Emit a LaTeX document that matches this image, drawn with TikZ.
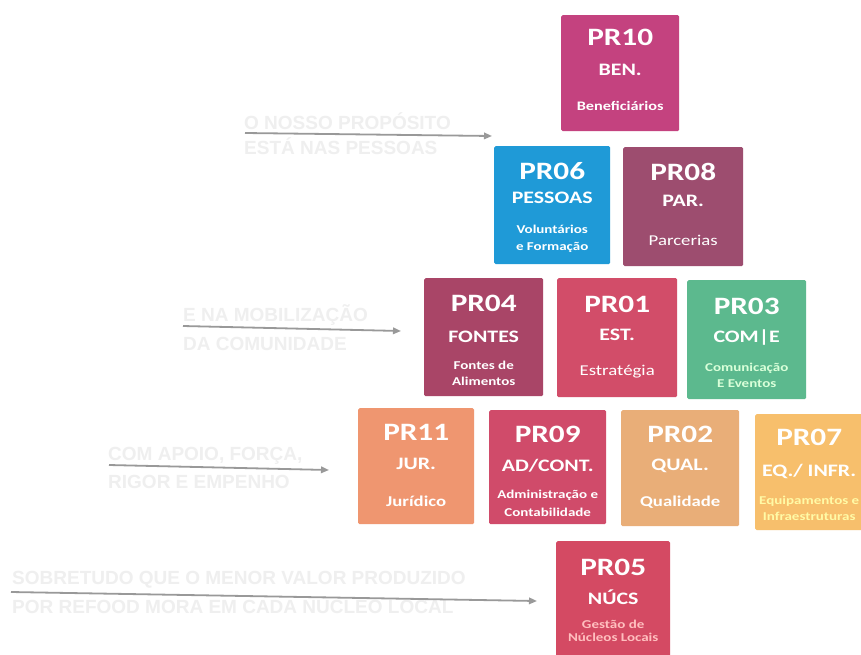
\documentclass[tikz,border=0pt]{standalone}
\usepackage{fontspec}
\setmainfont{Carlito}[FakeStretch=1.25]
\newfontfamily\labelfont{Liberation Sans}
\usetikzlibrary{calc,arrows.meta}
\definecolor{cPRten}{HTML}{C4427F}
\definecolor{cPRsix}{HTML}{1F9AD7}
\definecolor{cPReight}{HTML}{9D4D6F}
\definecolor{cPRfour}{HTML}{A94567}
\definecolor{cPRone}{HTML}{D24D69}
\definecolor{cPRthree}{HTML}{5CB98E}
\definecolor{cPReleven}{HTML}{EF9670}
\definecolor{cPRnine}{HTML}{D04B6A}
\definecolor{cPRtwo}{HTML}{E9AE78}
\definecolor{cPRseven}{HTML}{F7BF6C}
\definecolor{cPRfive}{HTML}{D44A63}
\definecolor{cArrow}{HTML}{999999}
\definecolor{cLabel}{HTML}{EFEFEF}
\begin{document}
\begin{tikzpicture}[x=1pt,y=-1pt,
  prbox/.style={rectangle, rounded corners=1.5pt, anchor=north west, inner sep=0pt},
  tcode/.style={text=white, inner sep=0pt, font=\bfseries\fontsize{25}{25}\selectfont},
  tabbr/.style={text=white, inner sep=0pt, font=\bfseries\fontsize{17.5}{17.5}\selectfont},
  tsub/.style={text=white, inner sep=0pt, font=\fontsize{15}{15}\selectfont},
  tsubb/.style={text=white, inner sep=0pt, font=\bfseries\fontsize{15}{15}\selectfont},
  tsmall/.style={text=white, inner sep=0pt, font=\bfseries\fontsize{12}{12}\selectfont},
  lbl/.style={text=cLabel, inner sep=0pt, anchor=west, font=\labelfont\bfseries\fontsize{19}{19}\selectfont},
  arr/.style={draw=cArrow, line width=1.8pt, -{Triangle[length=8pt,width=6.5pt]}}
]
\clip (0,0) rectangle (861,654);
\fill[white] (0,0) rectangle (861,654);

% ---- faded labels
\node[lbl] (l1a) at (244,121) {O NOSSO PROPÓSITO};
\node[lbl] (l1b) at (244,146) {ESTÁ NAS PESSOAS};
\node[lbl] (l2a) at (183,315) {E NA MOBILIZAÇÃO};
\node[lbl] (l2b) at (183,344) {DA COMUNIDADE};
\node[lbl] (l3a) at (108,456) {COM APOIO, FORÇA,};
\node[lbl] (l3b) at (108,482) {RIGOR E EMPENHO};
\node[lbl] (l4a) at (12,580) {SOBRETUDO QUE O MENOR VALOR PRODUZIDO};
\node[lbl] (l4b) at (12,605) {POR REFOOD MORA EM CADA NÚCLEO LOCAL};

% ---- arrows
\coordinate (a1s) at (245,133); \coordinate (a1e) at (492,136);
\coordinate (a2s) at (183,326); \coordinate (a2e) at (401,331);
\coordinate (a3s) at (109,465); \coordinate (a3e) at (329,470);
\coordinate (a4s) at (11,592);  \coordinate (a4e) at (537,601);
\draw[arr] (a1s) -- (a1e);
\draw[arr] (a2s) -- (a2e);
\draw[arr] (a3s) -- (a3e);
\draw[arr] (a4s) -- (a4e);

% ---- PR10
\node[prbox, fill=cPRten, minimum width=118pt, minimum height=116pt] (b10) at (561,15) {};
\node[tcode] (b10a) at ($(b10.north)+(0,22)$) {PR10};
\node[tabbr] (b10b) at ($(b10.north)+(0,55)$) {BEN.};
\node[tsub, font=\bfseries\fontsize{13}{13}\selectfont] (b10c) at ($(b10.north)+(0,91)$) {Beneficiários};

% ---- PR06
\node[prbox, fill=cPRsix, minimum width=116pt, minimum height=118pt] (b06) at (494,146) {};
\node[tcode] (b06a) at ($(b06.north)+(0,25)$) {PR06};
\node[tabbr] (b06b) at ($(b06.north)+(0,52)$) {PESSOAS};
\node[tsmall] (b06c) at ($(b06.north)+(0,83)$) {Voluntários};
\node[tsmall] (b06d) at ($(b06.north)+(0,101)$) {e Formação};

% ---- PR08
\node[prbox, fill=cPReight, minimum width=120pt, minimum height=119pt] (b08) at (623,147) {};
\node[tcode] (b08a) at ($(b08.north)+(0,25)$) {PR08};
\node[tabbr] (b08b) at ($(b08.north)+(0,54)$) {PAR.};
\node[tsub] (b08c) at ($(b08.north)+(0,93)$) {Parcerias};

% ---- PR04
\node[prbox, fill=cPRfour, minimum width=119pt, minimum height=118pt] (b04) at (424,278) {};
\node[tcode] (b04a) at ($(b04.north)+(0,25)$) {PR04};
\node[tabbr] (b04b) at ($(b04.north)+(0,59)$) {FONTES};
\node[tsmall] (b04c) at ($(b04.north)+(0,87)$) {Fontes de};
\node[tsmall] (b04d) at ($(b04.north)+(0,103)$) {Alimentos};

% ---- PR01
\node[prbox, fill=cPRone, minimum width=120pt, minimum height=119pt] (b01) at (557,278) {};
\node[tcode] (b01a) at ($(b01.north)+(0,26)$) {PR01};
\node[tabbr] (b01b) at ($(b01.north)+(0,57)$) {EST.};
\node[tsub] (b01c) at ($(b01.north)+(0,94)$) {Estratégia};

% ---- PR03
\node[prbox, fill=cPRthree, minimum width=119pt, minimum height=119pt] (b03) at (687,280) {};
\node[tcode] (b03a) at ($(b03.north)+(0,26)$) {PR03};
\node[tabbr] (b03b) at ($(b03.north)+(0,58)$) {COM|E};
\node[tsmall, text=green!15!white] (b03c) at ($(b03.north)+(0,88)$) {Comunicação};
\node[tsmall, text=green!15!white] (b03d) at ($(b03.north)+(0,104)$) {E Eventos};

% ---- PR11
\node[prbox, fill=cPReleven, minimum width=116pt, minimum height=116pt] (b11) at (358,408) {};
\node[tcode] (b11a) at ($(b11.north)+(0,24)$) {PR11};
\node[tabbr] (b11b) at ($(b11.north)+(0,56)$) {JUR.};
\node[tsubb] (b11c) at ($(b11.north)+(0,93)$) {Jurídico};

% ---- PR09
\node[prbox, fill=cPRnine, minimum width=117pt, minimum height=114pt] (b09) at (489,410) {};
\node[tcode] (b09a) at ($(b09.north)+(0,24)$) {PR09};
\node[tabbr] (b09b) at ($(b09.north)+(0,56)$) {AD/CONT.};
\node[tsmall] (b09c) at ($(b09.north)+(0,85)$) {Administração e};
\node[tsmall] (b09d) at ($(b09.north)+(0,102)$) {Contabilidade};

% ---- PR02
\node[prbox, fill=cPRtwo, minimum width=118pt, minimum height=116pt] (b02) at (621,410) {};
\node[tcode] (b02a) at ($(b02.north)+(0,24)$) {PR02};
\node[tabbr] (b02b) at ($(b02.north)+(0,56)$) {QUAL.};
\node[tsubb] (b02c) at ($(b02.north)+(0,92)$) {Qualidade};

% ---- PR07
\node[prbox, fill=cPRseven, minimum width=118pt, minimum height=116pt] (b07) at (755,414) {};
\node[tcode] (b07a) at ($(b07.north)+(-5,23)$) {PR07};
\node[tabbr] (b07b) at ($(b07.north)+(-5,57)$) {EQ./ INFR.};
\node[tsmall, text=yellow!35!white] (b07c) at ($(b07.north)+(-5,87)$) {Equipamentos e};
\node[tsmall, text=yellow!35!white] (b07d) at ($(b07.north)+(-5,102)$) {Infraestruturas};

% ---- PR05
\node[prbox, fill=cPRfive, minimum width=114pt, minimum height=116pt] (b05) at (556,541) {};
\node[tcode] (b05a) at ($(b05.north)+(0,26)$) {PR05};
\node[tabbr] (b05b) at ($(b05.north)+(0,56)$) {NÚCS};
\node[tsmall, text=red!25!white] (b05c) at ($(b05.north)+(0,83)$) {Gestão de};
\node[tsmall, text=red!25!white] (b05d) at ($(b05.north)+(0,96)$) {Núcleos Locais};
\end{tikzpicture}
\end{document}
